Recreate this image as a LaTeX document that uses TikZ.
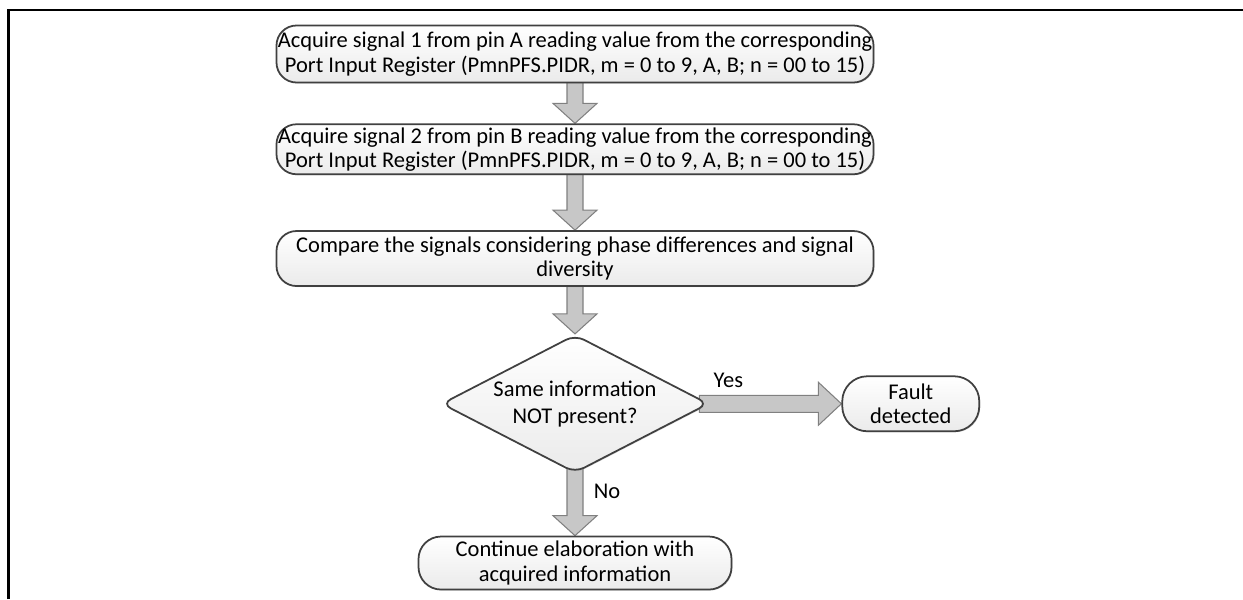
\documentclass[tikz,border=0pt]{standalone}
\usepackage{fontspec}
\setmainfont{Carlito}
\usetikzlibrary{positioning,calc,shapes.geometric,shadows,backgrounds}

\tikzset{
  flowbox/.style={draw=black!75, line width=1pt, rounded corners=0.4cm,
    top color=white, bottom color=black!8, align=center, inner sep=0pt,
    font=\fontsize{12.8}{13.8}\selectfont,
    drop shadow={shadow xshift=0.6pt, shadow yshift=-0.6pt, opacity=0.25}},
  decbox/.style={flowbox, diamond, aspect=2.02, rounded corners=0.2cm,
    font=\fontsize{12.8}{15.5}\selectfont},
  blockarrow/.style={draw=black!50, fill=black!22, line width=0.6pt},
  lbl/.style={inner sep=0pt, font=\fontsize{12.8}{13.8}\selectfont},
}

% block arrows, drawn behind the boxes
\newcommand{\arrowdown}[2]{%
  \begin{pgfonlayer}{background}
  \draw[blockarrow] let \p1=(#1.south), \p2=(#2.north) in
    (\x1-0.16cm,\y1+0.2cm) -- (\x1+0.16cm,\y1+0.2cm) -- (\x1+0.16cm,\y2+0.4cm)
    -- (\x1+0.44cm,\y2+0.4cm) -- (\x1,\y2) -- (\x1-0.44cm,\y2+0.4cm)
    -- (\x1-0.16cm,\y2+0.4cm) -- cycle;
  \end{pgfonlayer}}
\newcommand{\arrowright}[2]{%
  \begin{pgfonlayer}{background}
  \draw[blockarrow] let \p1=(#1.east), \p2=(#2.west) in
    (\x1-0.2cm,\y1+0.17cm) -- (\x1-0.2cm,\y1-0.17cm) -- (\x2-0.46cm,\y1-0.17cm)
    -- (\x2-0.46cm,\y1-0.43cm) -- (\x2,\y1) -- (\x2-0.46cm,\y1+0.43cm)
    -- (\x2-0.46cm,\y1+0.17cm) -- cycle;
  \end{pgfonlayer}}

\begin{document}
\begin{tikzpicture}
  \useasboundingbox (0,0) rectangle (24.86,-11.98);
  % frame
  \draw[line width=0.06cm] (0.18,-11.98) -- (0.18,-0.2) -- (24.86,-0.2);

  \node[flowbox, minimum width=11.94cm, minimum height=1.14cm] (acqa) at (11.5,-1.08)
    {Acquire signal 1 from pin A reading value from the corresponding\\Port Input Register (PmnPFS.PIDR, m = 0 to 9, A, B; n = 00 to 15)};
  \node[flowbox, minimum width=11.94cm, minimum height=1.0cm, below=0.8cm of acqa] (acqb)
    {Acquire signal 2 from pin B reading value from the corresponding\\Port Input Register (PmnPFS.PIDR, m = 0 to 9, A, B; n = 00 to 15)};
  \node[flowbox, minimum width=11.94cm, minimum height=1.1cm, below=1.1cm of acqb] (cmp)
    {Compare the signals considering phase differences and signal\\diversity};
  \node[decbox, minimum width=5.34cm, minimum height=2.76cm, below=0.94cm of cmp] (dec)
    {Same information\\NOT present?};
  \node[flowbox, rounded corners=0.5cm, minimum width=2.74cm, minimum height=1.1cm, right=2.64cm of dec] (fault)
    {Fault\\detected};
  \node[flowbox, rounded corners=0.45cm, minimum width=6.26cm, minimum height=1.06cm, below=1.24cm of dec] (cont)
    {Continue elaboration with\\acquired information};

  \arrowdown{acqa}{acqb}
  \arrowdown{acqb}{cmp}
  \arrowdown{cmp}{dec}
  \arrowdown{dec}{cont}
  \arrowright{dec}{fault}

  \node[lbl] (yes) at ($(dec.east)+(0.38,0.46)$) {Yes};
  \node[lbl] (no) at ($(dec.south)+(0.64,-0.36)$) {No};
\end{tikzpicture}
\end{document}
